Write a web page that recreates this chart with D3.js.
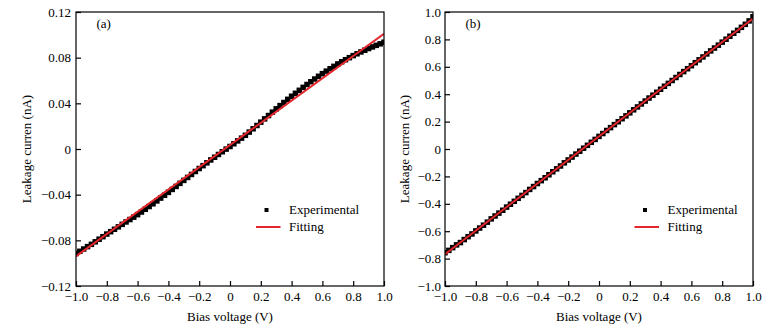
<!DOCTYPE html>
<html>
<head>
<meta charset="utf-8">
<script src="https://cdn.jsdelivr.net/npm/d3@7/dist/d3.min.js"></script>
<style>
  html, body { margin: 0; padding: 0; background: #fff; }
  svg text { font-family: "Liberation Serif", "Times New Roman", serif; fill: #000; }
</style>
</head>
<body>
<svg id="chart" width="773" height="330"></svg>
<script>
// Bias voltage sweep (V), shared by both devices
const voltage = [
  -1.000, -0.975, -0.950, -0.925, -0.900, -0.875, -0.850, -0.825, -0.800, -0.775,
  -0.750, -0.725, -0.700, -0.675, -0.650, -0.625, -0.600, -0.575, -0.550, -0.525,
  -0.500, -0.475, -0.450, -0.425, -0.400, -0.375, -0.350, -0.325, -0.300, -0.275,
  -0.250, -0.225, -0.200, -0.175, -0.150, -0.125, -0.100, -0.075, -0.050, -0.025,
   0.000,  0.025,  0.050,  0.075,  0.100,  0.125,  0.150,  0.175,  0.200,  0.225,
   0.250,  0.275,  0.300,  0.325,  0.350,  0.375,  0.400,  0.425,  0.450,  0.475,
   0.500,  0.525,  0.550,  0.575,  0.600,  0.625,  0.650,  0.675,  0.700,  0.725,
   0.750,  0.775,  0.800,  0.825,  0.850,  0.875,  0.900,  0.925,  0.950,  0.975,
   1.000
];

// (a) measured leakage current (nA)
const currentA = [
  -0.0915, -0.0896, -0.0876, -0.0855, -0.0835, -0.0813, -0.0790, -0.0768, -0.0745, -0.0724,
  -0.0703, -0.0682, -0.0660, -0.0639, -0.0618, -0.0597, -0.0575, -0.0552, -0.0528, -0.0504,
  -0.0480, -0.0455, -0.0430, -0.0405, -0.0380, -0.0354, -0.0328, -0.0301, -0.0275, -0.0249,
  -0.0223, -0.0197, -0.0171, -0.0146, -0.0121, -0.0096, -0.0072, -0.0048, -0.0024, -0.0001,
   0.0022,  0.0046,  0.0071,  0.0095,  0.0120,  0.0148,  0.0177,  0.0206,  0.0235,  0.0264,
   0.0293,  0.0323,  0.0352,  0.0380,  0.0407,  0.0435,  0.0462,  0.0488,  0.0514,  0.0540,
   0.0565,  0.0589,  0.0613,  0.0637,  0.0660,  0.0682,  0.0703,  0.0724,  0.0745,  0.0764,
   0.0782,  0.0800,  0.0818,  0.0834,  0.0850,  0.0865,  0.0880,  0.0894,  0.0908,  0.0921,
   0.0935
];

// (b) measured leakage current (nA)
const currentB = [
  -0.757, -0.740, -0.720, -0.700, -0.683, -0.661, -0.640, -0.620, -0.598, -0.577,
  -0.556, -0.534, -0.510, -0.489, -0.468, -0.447, -0.424, -0.403, -0.382, -0.360,
  -0.339, -0.318, -0.295, -0.274, -0.252, -0.231, -0.210, -0.188, -0.166, -0.145,
  -0.124, -0.101, -0.080, -0.059, -0.037, -0.016,  0.006,  0.027,  0.049,  0.070,
   0.092,  0.113,  0.135,  0.156,  0.178,  0.199,  0.221,  0.242,  0.264,  0.286,
   0.307,  0.329,  0.350,  0.372,  0.393,  0.414,  0.436,  0.458,  0.479,  0.500,
   0.522,  0.544,  0.565,  0.586,  0.608,  0.630,  0.651,  0.672,  0.694,  0.716,
   0.737,  0.758,  0.780,  0.801,  0.823,  0.845,  0.866,  0.888,  0.910,  0.935,
   0.965
];

// Linear fits: end points over the sweep
const fitVoltage = [-1.0, 1.0];
const fitA = [-0.0940, 0.1010];
const fitB = [-0.768, 0.952];

// Axis ticks
const xTicks = [-1.0, -0.8, -0.6, -0.4, -0.2, 0, 0.2, 0.4, 0.6, 0.8, 1.0];
const xTickLabels = ["\u22121.0", "\u22120.8", "\u22120.6", "\u22120.4", "\u22120.2", "0", "0.2", "0.4", "0.6", "0.8", "1.0"];
const yTicksA = [-0.12, -0.08, -0.04, 0, 0.04, 0.08, 0.12];
const yTickLabelsA = ["\u22120.12", "\u22120.08", "\u22120.04", "0", "0.04", "0.08", "0.12"];
const yTicksB = [-1.0, -0.8, -0.6, -0.4, -0.2, 0, 0.2, 0.4, 0.6, 0.8, 1.0];
const yTickLabelsB = ["\u22121.0", "\u22120.8", "\u22120.6", "\u22120.4", "\u22120.2", "0", "0.2", "0.4", "0.6", "0.8", "1.0"];

const seriesNames = ["Experimental", "Fitting"];
const xTitle = "Bias voltage (V)";
const yTitle = "Leakage curren (nA)";

const svg = d3.select("#chart");
svg.append("rect").attr("width", 773).attr("height", 330).attr("fill", "#fff");

const fitColor = "#e2262b";

function drawPanel(cfg) {
  const { left, top, width, height, yDomain, yTicks, yLabels, values, fit, tag, yTitleX, id, legendX, labelPad } = cfg;
  const g = svg.append("g").attr("transform", `translate(${left},${top})`);

  const x = d3.scaleLinear().domain([-1, 1]).range([0, width]);
  const y = d3.scaleLinear().domain(yDomain).range([height, 0]);

  g.append("clipPath").attr("id", id)
    .append("rect").attr("width", width).attr("height", height);

  // measured points
  const pts = g.append("g").attr("clip-path", `url(#${id})`);
  const s = 5.5;
  pts.selectAll("rect")
    .data(voltage.map((v, i) => [v, values[i]]))
    .join("rect")
    .attr("x", d => x(d[0]) - s / 2)
    .attr("y", d => y(d[1]) - s / 2)
    .attr("width", s).attr("height", s)
    .attr("fill", "#000");

  // fitted line
  pts.append("path")
    .datum(fitVoltage.map((v, i) => [v, fit[i]]))
    .attr("d", d3.line().x(d => x(d[0])).y(d => y(d[1])))
    .attr("fill", "none")
    .attr("stroke", fitColor)
    .attr("stroke-width", 2);

  // frame
  g.append("rect").attr("width", width).attr("height", height)
    .attr("fill", "none").attr("stroke", "#000").attr("stroke-width", 1.2);

  // axes with inward ticks
  const xAxis = d3.axisBottom(x).tickValues(xTicks)
    .tickFormat((d, i) => xTickLabels[i]).tickSizeInner(-5).tickSizeOuter(0).tickPadding(6);
  const gx = g.append("g").attr("transform", `translate(0,${height})`).call(xAxis);
  gx.select(".domain").remove();
  gx.selectAll("line").attr("stroke", "#000").attr("stroke-width", 1.2);
  gx.selectAll("text").attr("font-size", 13).attr("font-family", "Liberation Serif, serif");

  const yAxis = d3.axisLeft(y).tickValues(yTicks)
    .tickFormat((d, i) => yLabels[i]).tickSizeInner(-5).tickSizeOuter(0).tickPadding(labelPad);
  const gy = g.append("g").call(yAxis);
  gy.select(".domain").remove();
  gy.selectAll("line").attr("stroke", "#000").attr("stroke-width", 1.2);
  gy.selectAll("text").attr("font-size", 13).attr("font-family", "Liberation Serif, serif");

  // axis titles
  g.append("text").attr("x", width / 2).attr("y", height + 34.5)
    .attr("text-anchor", "middle").attr("font-size", 13).text(xTitle);
  g.append("text")
    .attr("transform", `translate(${yTitleX},${height / 2}) rotate(-90)`)
    .attr("text-anchor", "middle").attr("font-size", 13).text(yTitle);

  // panel tag
  g.append("text").attr("x", 20.5).attr("y", 16).attr("font-size", 13).text(tag);

  // legend
  const lg = g.append("g").attr("transform", `translate(${legendX},0)`);
  lg.append("rect").attr("x", -2).attr("y", 198 - 2).attr("width", 4).attr("height", 4).attr("fill", "#000");
  lg.append("text").attr("x", 22.5).attr("y", 202).attr("font-size", 13).text(seriesNames[0]);
  lg.append("line").attr("x1", -10.5).attr("x2", 14).attr("y1", 215).attr("y2", 215)
    .attr("stroke", fitColor).attr("stroke-width", 2);
  lg.append("text").attr("x", 22.5).attr("y", 218.5).attr("font-size", 13).text(seriesNames[1]);
}

drawPanel({
  id: "clipA", left: 76, top: 12, width: 308, height: 274,
  yDomain: [-0.12, 0.12], yTicks: yTicksA, yLabels: yTickLabelsA,
  values: currentA, fit: fitA, tag: "(a)", yTitleX: -45, legendX: 190.5, labelPad: 5
});

drawPanel({
  id: "clipB", left: 445, top: 12, width: 308, height: 274,
  yDomain: [-1.0, 1.0], yTicks: yTicksB, yLabels: yTickLabelsB,
  values: currentB, fit: fitB, tag: "(b)", yTitleX: -36, legendX: 200, labelPad: 4
});
</script>
</body>
</html>
